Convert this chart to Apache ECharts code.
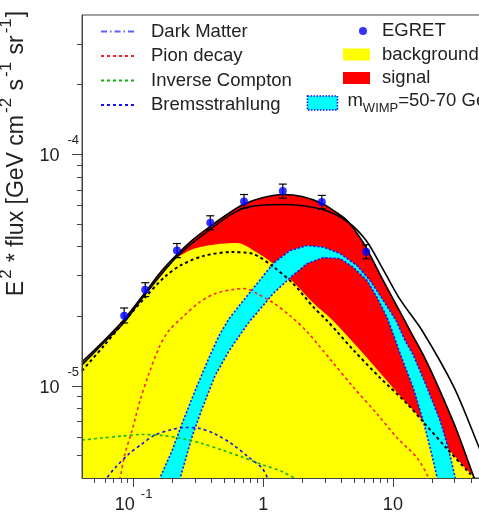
<!DOCTYPE html>
<html><head><meta charset="utf-8">
<script src="https://cdn.jsdelivr.net/npm/echarts@6/dist/echarts.min.js"></script>
<style>html,body{margin:0;padding:0;background:#fff}#c{width:479px;height:513px}</style>
</head><body><div id="c"></div>
<script>
// ---------------- data (energy in GeV, E^2*flux in GeV cm^-2 s^-1 sr^-1) ----------------
const egretE  = [0.0846, 0.1229, 0.216, 0.3905, 0.711, 1.415, 2.83, 6.22];
const egretF  = [2.01e-5, 2.60e-5, 3.84e-5, 5.06e-5, 6.26e-5, 6.94e-5, 6.22e-5, 3.80e-5];
const egretLo = [1.87e-5, 2.43e-5, 3.58e-5, 4.72e-5, 5.84e-5, 6.47e-5, 5.82e-5, 3.54e-5];
const egretHi = [2.17e-5, 2.79e-5, 4.12e-5, 5.43e-5, 6.71e-5, 7.44e-5, 6.65e-5, 4.07e-5];

const totalE = [0.04, 0.0579, 0.0841, 0.1223, 0.1625, 0.216, 0.287, 0.388, 0.5254, 0.698, 1.0, 1.422, 1.993, 2.845, 3.585, 4.437, 5.30, 6.22, 8.27, 10.8, 13.85, 17.76, 22.38, 30.8, 42.4, 50];
const totalF = [1.270e-5, 1.551e-5, 1.931e-5, 2.527e-5, 3.114e-5, 3.691e-5, 4.285e-5, 4.879e-5, 5.497e-5, 6.072e-5, 6.51e-5, 6.71e-5, 6.58e-5, 6.14e-5, 5.66e-5, 5.18e-5, 4.55e-5, 3.957e-5, 2.905e-5, 2.198e-5, 1.696e-5, 1.309e-5, 9.90e-6, 6.51e-6, 4.00e-6, 3.18e-6];

const fit2E = [0.04, 0.0579, 0.0841, 0.1223, 0.216, 0.388, 0.698, 1.422, 2.845, 4.437, 6.22, 8.42, 11.39, 16.84, 29.75, 46.4, 50];
const fit2F = [1.233e-5, 1.520e-5, 1.874e-5, 2.477e-5, 3.617e-5, 4.735e-5, 5.835e-5, 6.07e-5, 5.78e-5, 5.13e-5, 4.243e-5, 3.177e-5, 2.357e-5, 1.730e-5, 9.80e-6, 5.39e-6, 4.88e-6];

const bkgE = [0.04, 0.0579, 0.0841, 0.1223, 0.1745, 0.1976, 0.2819, 0.4244, 0.6276, 0.8956, 1.19, 1.61, 2.424, 3.459, 5.30, 7.98, 11.39, 17.14, 26.26, 39.54, 50];
const bkgF = [1.258e-5, 1.535e-5, 1.893e-5, 2.502e-5, 3.209e-5, 3.459e-5, 3.879e-5, 4.077e-5, 4.138e-5, 3.765e-5, 3.374e-5, 2.905e-5, 2.287e-5, 1.912e-5, 1.475e-5, 1.138e-5, 9.05e-6, 7.06e-6, 5.39e-6, 4.20e-6, 3.73e-6];

const bgSumE = [0.04, 0.05899, 0.0857, 0.1223, 0.1745, 0.236, 0.3553, 0.5742, 0.8194, 1.19, 1.699, 2.424, 3.109, 3.715, 4.936, 7.98, 12.9, 17.14, 26.26, 39.54, 50];
const bgSumF = [1.161e-5, 1.490e-5, 1.912e-5, 2.404e-5, 2.963e-5, 3.340e-5, 3.654e-5, 3.783e-5, 3.727e-5, 3.274e-5, 2.764e-5, 2.198e-5, 1.912e-5, 1.713e-5, 1.432e-5, 1.083e-5, 8.36e-6, 6.99e-6, 5.34e-6, 4.16e-6, 3.62e-6];

const pionE = [0.0730, 0.0784, 0.0857, 0.0970, 0.1119, 0.1312, 0.1568, 0.1840, 0.236, 0.3192, 0.4244, 0.5742, 0.7236, 0.8956, 1.19, 1.61, 2.179, 3.459, 4.936, 7.565, 10.8, 15.40, 19.07, 20.48];
const pionF = [3.51e-6, 3.96e-6, 5.08e-6, 6.38e-6, 8.61e-6, 1.127e-5, 1.460e-5, 1.713e-5, 1.970e-5, 2.287e-5, 2.502e-5, 2.603e-5, 2.630e-5, 2.502e-5, 2.287e-5, 2.009e-5, 1.713e-5, 1.258e-5, 9.90e-6, 7.56e-6, 5.955e-6, 4.88e-6, 3.96e-6, 3.51e-6];

const icE = [0.04, 0.0569, 0.0812, 0.1159, 0.1654, 0.236, 0.3368, 0.4807, 0.6861, 0.979, 1.397, 1.792, 2.102];
const icF = [5.835e-6, 5.955e-6, 6.07e-6, 6.166e-6, 6.105e-6, 5.926e-6, 5.638e-6, 5.283e-6, 4.927e-6, 4.571e-6, 4.264e-6, 3.96e-6, 3.80e-6];

const bremE = [0.0512, 0.0611, 0.0717, 0.0920, 0.1159, 0.1461, 0.1976, 0.2489, 0.3251, 0.4244, 0.5742, 0.7768, 0.979, 1.089, 1.149];
const bremF = [3.51e-6, 3.96e-6, 4.416e-6, 5.08e-6, 5.61e-6, 6.136e-6, 6.48e-6, 6.61e-6, 6.546e-6, 6.197e-6, 5.61e-6, 4.903e-6, 4.416e-6, 3.96e-6, 3.69e-6];

const bandUpE = [0.1461, 0.1596, 0.1976, 0.236, 0.2974, 0.3815, 0.4557, 0.5444, 0.6620, 0.8956, 1.19, 1.61, 2.179, 2.896, 3.918, 5.30, 6.678, 8.27, 10.60, 12.45, 14.35, 18.40, 23.19, 26.73, 30.28, 31.94];
const bandUpF = [3.51e-6, 4.00e-6, 5.23e-6, 6.85e-6, 9.51e-6, 1.322e-5, 1.646e-5, 1.950e-5, 2.242e-5, 2.764e-5, 3.374e-5, 3.84e-5, 4.037e-5, 3.977e-5, 3.727e-5, 3.307e-5, 2.848e-5, 2.380e-5, 1.912e-5, 1.566e-5, 1.362e-5, 9.80e-6, 7.06e-6, 5.39e-6, 4.00e-6, 3.51e-6];
const bandLoE = [0.2084, 0.2278, 0.2819, 0.3368, 0.4244, 0.5444, 0.6620, 0.7907, 0.8956, 1.19, 1.61, 2.179, 2.896, 3.918, 4.936, 6.331, 7.565, 9.036, 10.23, 11.39, 14.35, 17.14, 19.41, 21.98, 23.19];
const bandLoF = [3.51e-6, 3.96e-6, 6.014e-6, 7.95e-6, 1.105e-5, 1.418e-5, 1.662e-5, 1.912e-5, 2.070e-5, 2.502e-5, 2.933e-5, 3.374e-5, 3.581e-5, 3.546e-5, 3.258e-5, 2.848e-5, 2.404e-5, 1.970e-5, 1.630e-5, 1.376e-5, 9.80e-6, 7.06e-6, 5.39e-6, 4.00e-6, 3.51e-6];

const darkMatterE = [];
const darkMatterF = [];

const xRange = [0.04, 50];
const yRange = [4e-6, 4e-4];
const xMajor = [0.1, 1, 10];
const xTickLabels = ['10^-1', '1', '10'];
const xMinor = [0.05, 0.06, 0.07, 0.08, 0.09, 0.2, 0.3, 0.4, 0.5, 0.6, 0.7, 0.8, 0.9, 2, 3, 4, 5, 6, 7, 8, 9, 20, 30, 40];
const yMajor = [1e-5, 1e-4];
const yTickLabels = ['10^-5', '10^-4'];
const yMinor = [5e-6, 6e-6, 7e-6, 8e-6, 9e-6, 2e-5, 3e-5, 4e-5, 5e-5, 6e-5, 7e-5, 8e-5, 9e-5, 2e-4, 3e-4];

// ---------------- chart ----------------
const FONT = '"Liberation Sans", Arial, Helvetica, sans-serif';
const TXT = '#222';
const AX = '#444';
const lg = Math.log10;
const pts = (E, F) => E.map((e, i) => [lg(e), lg(F[i])]);

function tickFmt(v, vals, labels) {
  const i = vals.findIndex(t => Math.abs(lg(t) - v) < 1e-6);
  if (i < 0) return '';
  const parts = labels[i].split('^');
  return parts.length > 1 ? '{b|' + parts[0] + '}{s|' + parts[1] + '}' : '{b|' + parts[0] + '}';
}

const chart = echarts.init(document.getElementById('c'), null, {renderer: 'canvas'});

const X0 = lg(xRange[0]), X1 = lg(xRange[1]), Y0 = lg(yRange[0]), Y1 = lg(yRange[1]);

function lineSeries(name, E, F, color, type, width, z) {
  return {
    type: 'line', name, data: pts(E, F), symbol: 'none', showSymbol: false, smooth: 0.3,
    clip: true, silent: true, z,
    lineStyle: {color, width, type},
    itemStyle: {color}
  };
}

const bandUp = pts(bandUpE, bandUpF);
const bandLo = pts(bandLoE, bandLoF);
const errData = egretE.map((e, i) => [lg(e), lg(egretLo[i]), lg(egretHi[i])]);

const legendText = {fontSize: 18.5, lineHeight: 20, color: TXT, fontFamily: FONT};
const supTok = {fontSize: 17, lineHeight: 17, verticalAlign: 'top', color: TXT, fontFamily: FONT, padding: [0, 1, 0, 2]};

const option = {
  animation: false,
  backgroundColor: '#ffffff',
  grid: {left: 82, top: 15, width: 401.5, height: 463, show: true, borderColor: AX, borderWidth: 1,
         backgroundColor: 'transparent', containLabel: false, outerBoundsMode: 'none'},
  xAxis: [
    {type: 'value', min: X0, max: X1, position: 'bottom', z: 10,
     axisLine: {show: true, onZero: false, lineStyle: {color: AX, width: 1}},
     axisTick: {show: true, inside: false, length: 9, customValues: xMajor.map(lg), lineStyle: {color: AX, width: 1}},
     axisLabel: {show: true, margin: 10, customValues: xMajor.map(lg), color: TXT, fontFamily: FONT,
       formatter: v => tickFmt(v, xMajor, xTickLabels),
       rich: {b: {fontSize: 18, lineHeight: 34, verticalAlign: 'middle', color: TXT, fontFamily: FONT},
              s: {fontSize: 13, lineHeight: 12, verticalAlign: 'top', padding: [0, 0, 0, 6], color: TXT, fontFamily: FONT}}},
     splitLine: {show: false}},
    {type: 'value', min: X0, max: X1, position: 'bottom', z: 10,
     axisLine: {show: false, onZero: false},
     axisTick: {show: true, inside: false, length: 5, customValues: xMinor.map(lg), lineStyle: {color: AX, width: 1}},
     axisLabel: {show: false}, splitLine: {show: false}}
  ],
  yAxis: [
    {type: 'value', min: Y0, max: Y1, position: 'left', z: 10,
     name: '{t|E}{s|2}{t| * flux [GeV cm}{s|-2}{t| s}{s|-1}{t| sr}{s|-1}{t|]}',
     nameLocation: 'middle', nameRotate: 90, nameGap: 50,
     nameTextStyle: {color: TXT, fontFamily: FONT, fontSize: 23, padding: [0, 0, 0, 186],
       rich: {t: {fontSize: 23, lineHeight: 31, verticalAlign: 'bottom', color: TXT, fontFamily: FONT},
              s: supTok}},
     axisLine: {show: true, onZero: false, lineStyle: {color: AX, width: 1}},
     axisTick: {show: true, inside: false, length: 10, customValues: yMajor.map(lg), lineStyle: {color: AX, width: 1}},
     axisLabel: {show: true, margin: 3, padding: [4, 0, 0, 0], customValues: yMajor.map(lg), color: TXT, fontFamily: FONT,
       formatter: v => tickFmt(v, yMajor, yTickLabels),
       rich: {b: {fontSize: 18, lineHeight: 44, verticalAlign: 'middle', color: TXT, fontFamily: FONT},
              s: {fontSize: 13, lineHeight: 12, verticalAlign: 'top', padding: [0, 0, 0, 8], color: TXT, fontFamily: FONT}}},
     splitLine: {show: false}},
    {type: 'value', min: Y0, max: Y1, position: 'left', z: 10,
     axisLine: {show: false, onZero: false},
     axisTick: {show: true, inside: false, length: 5, customValues: yMinor.map(lg), lineStyle: {color: AX, width: 1}},
     axisLabel: {show: false}, splitLine: {show: false}}
  ],
  legend: [
    {left: 100, top: 21.5, orient: 'vertical', padding: 0, itemWidth: 33, itemHeight: 14, itemGap: 4.5, selectedMode: false,
     itemStyle: {opacity: 0},
     data: ['Dark Matter', 'Pion decay', 'Inverse Compton', 'Bremsstrahlung'],
     textStyle: Object.assign({padding: [0, 0, 0, 12]}, legendText)},
    {left: 359, top: 21, orient: 'vertical', padding: 0, itemWidth: 8, itemHeight: 8, selectedMode: false,
     data: [{name: 'EGRET', icon: 'circle', itemStyle: {color: '#0000ff'}}],
     textStyle: Object.assign({padding: [0, 0, 0, 10]}, legendText)},
    {left: 343, top: 44.5, orient: 'vertical', padding: 0, itemWidth: 27, itemHeight: 12, itemGap: 3.5, selectedMode: false,
     data: [{name: 'background', icon: 'rect', itemStyle: {color: '#ffff00', borderWidth: 0}},
            {name: 'signal', icon: 'rect', itemStyle: {color: '#ff0000', borderWidth: 0}}],
     textStyle: Object.assign({padding: [0, 0, 0, 7]}, legendText)},
    {left: 306.7, top: 91, orient: 'vertical', padding: 0, itemWidth: 30, itemHeight: 14, selectedMode: false,
     data: [{name: 'mWIMP', icon: 'rect', itemStyle: {color: '#00ffff', borderColor: '#0000ff', borderWidth: 1.5, borderType: 'dotted'}}],
     formatter: () => '{m|m}{sub|WIMP}{m|=50-70 GeV}',
     textStyle: {color: TXT, fontFamily: FONT, fontSize: 18.5, padding: [0, 0, 0, 5],
       rich: {m: {fontSize: 18.5, lineHeight: 24, verticalAlign: 'top', color: TXT, fontFamily: FONT},
              sub: {fontSize: 13, lineHeight: 13, verticalAlign: 'bottom', color: TXT, fontFamily: FONT}}}}
  ],
  series: [
    {type: 'line', name: 'signal', data: pts(totalE, totalF), symbol: 'none', showSymbol: false, smooth: 0.3,
     clip: true, silent: true, z: 1, lineStyle: {width: 0, color: '#ff0000'}, itemStyle: {color: '#ff0000'},
     areaStyle: {color: '#ff0000', opacity: 1, origin: 'start'}},
    {type: 'line', name: 'background', data: pts(bkgE, bkgF), symbol: 'none', showSymbol: false, smooth: 0.3,
     clip: true, silent: true, z: 2, lineStyle: {width: 0, color: '#ffff00'}, itemStyle: {color: '#ffff00'},
     areaStyle: {color: '#ffff00', opacity: 1, origin: 'start'}},
    {type: 'custom', name: 'mWIMP', z: 3, silent: true, itemStyle: {color: '#00ffff'},
     data: [[X0, Y0]], encode: {x: 0, y: 1},
     renderItem: function (params, api) {
       const cs = params.coordSys;
       const up = bandUp.map(p => api.coord(p));
       const lo = bandLo.map(p => api.coord(p)).reverse();
       return {type: 'polygon', shape: {points: up.concat(lo)},
         style: {fill: '#00ffff', stroke: '#1010ff', lineWidth: 1.6, lineDash: [2, 2]},
         clipPath: {type: 'rect', shape: {x: cs.x, y: cs.y, width: cs.width, height: cs.height}}};
     }},
    lineSeries('Dark Matter', darkMatterE, darkMatterF, '#6060ff', [6, 3, 1.5, 3], 1.5, 4),
    lineSeries('Pion decay', pionE, pionF, '#ff2020', [3, 3], 1.6, 4),
    lineSeries('Inverse Compton', icE, icF, '#10b010', [3, 3], 1.6, 4),
    lineSeries('Bremsstrahlung', bremE, bremF, '#1010ff', [3, 3], 1.6, 4),
    lineSeries('background sum', bgSumE, bgSumF, '#000000', [3, 3], 2, 4),
    lineSeries('total', totalE, totalF, '#000000', 'solid', 1.6, 5),
    lineSeries('fit2', fit2E, fit2F, '#000000', 'solid', 1.6, 5),
    {type: 'custom', name: 'errors', z: 6, silent: true, data: errData, encode: {x: 0, y: [1, 2]},
     renderItem: function (params, api) {
       const x = api.value(0);
       const pl = api.coord([x, api.value(1)]);
       const ph = api.coord([x, api.value(2)]);
       const st = {stroke: '#000', lineWidth: 1.2};
       return {type: 'group', children: [
         {type: 'line', shape: {x1: pl[0], y1: pl[1], x2: ph[0], y2: ph[1]}, style: st},
         {type: 'line', shape: {x1: pl[0] - 4, y1: pl[1], x2: pl[0] + 4, y2: pl[1]}, style: st},
         {type: 'line', shape: {x1: ph[0] - 4, y1: ph[1], x2: ph[0] + 4, y2: ph[1]}, style: st}
       ]};
     }},
    {type: 'scatter', name: 'EGRET', data: pts(egretE, egretF), symbol: 'circle', symbolSize: 8, z: 7, silent: true,
     itemStyle: {color: '#0000ff'}}
  ]
};
chart.setOption(option);
</script></body></html>
